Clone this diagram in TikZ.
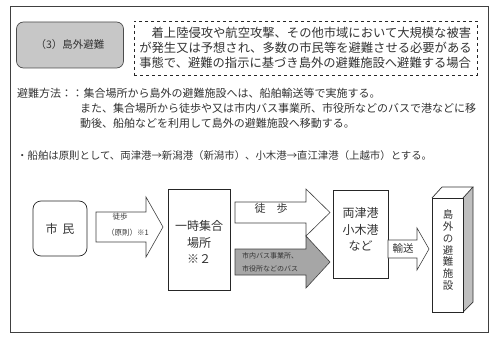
\documentclass[tikz,border=0pt]{standalone}
\usepackage{fontspec}
\setmainfont{Noto Sans CJK JP}
\begin{document}
\begin{tikzpicture}[x=1pt,y=-1pt,
  txt/.style={inner sep=0pt, text=black!80, font=\fontsize{11}{15}\selectfont},
  frame/.style={draw=black!75, line width=1pt},
  box/.style={draw=black!85, line width=0.7pt, fill=white, inner sep=0pt, text=black!80},
  arr/.style={draw=black!75, line width=0.6pt, fill=white, line join=miter},
  garr/.style={arr, fill=black!35},
  big/.style={font=\fontsize{12}{16.5}\selectfont, align=center},
  tiny/.style={font=\fontsize{7}{13}\selectfont, align=left}]
\useasboundingbox (0,0) rectangle (500,342);
\draw[frame] (10,7) rectangle (488,332);
% header
\node[box, draw=black!70, fill=black!22, rounded corners=7, minimum width=107, minimum height=46,
  font=\fontsize{10.5}{12}\selectfont] (title) at (70,45) {（3）島外避難};
\node[box, dashed, line width=0.6pt, minimum width=343, minimum height=54, align=left,
  font=\fontsize{12.3}{15}\selectfont] (desc) at (305.5,48)
  {\hspace*{1em}着上陸侵攻や航空攻撃、その他市域において大規模な被害\\が発生又は予想され、多数の市民等を避難させる必要がある\\事態で、避難の指示に基づき島外の避難施設へ避難する場合};
% method
\node[txt, anchor=west] (m0) at (17,93) {避難方法：：};
\node[txt, anchor=west] (m1) at (m0.east) {集合場所から島外の避難施設へは、船舶輸送等で実施する。};
\node[txt, anchor=west] (m2) at (80,108) {また、集合場所から徒歩や又は市内バス事業所、市役所などのバスで港などに移};
\node[txt, anchor=west] (m3) at (80,123) {動後、船舶などを利用して島外の避難施設へ移動する。};
\node[txt, anchor=west, font=\fontsize{10.4}{12}\selectfont] (note) at (17,156)
  {・船舶は原則として、両津港→新潟港（新潟市）、小木港→直江津港（上越市）とする。};
% diagram boxes
\node[box, rounded corners=8, minimum width=54, minimum height=55,
  font=\fontsize{12}{14}\selectfont] (shimin) at (60,228.5) {市\hspace{0.4em}民};
\node[box, minimum width=62, minimum height=101] (ichiji) at (199,239.5) {};
\node[txt, big] (ichijiT) at (199,242) {一時集合\\場所\\※２};
\node[box, minimum width=55, minimum height=88] (port) at (360.5,234) {};
\node[txt, big] (portT) at (360.5,229.5) {両津港\\小木港\\など};
% block arrows
\draw[arr] (96,212) -- (146,212) -- (146,197) -- (163,227) -- (146,257) -- (146,242) -- (96,242) -- cycle;
\node[txt, font=\fontsize{7.5}{9}\selectfont] (walk1) at (120,217) {徒歩};
\node[txt, font=\fontsize{7.5}{9}\selectfont] (walk1b) at (128,233) {（原則）※1};
\draw[arr] (235,202) -- (306,202) -- (306,189) -- (330,212.5) -- (306,236) -- (306,223) -- (235,223) -- cycle;
\node[txt] (walk2) at (271,208) {徒\hspace{1em}歩};
\draw[garr] (235,249) -- (306,249) -- (306,236) -- (330,262) -- (306,288) -- (306,275) -- (235,275) -- cycle;
\node[txt, tiny, anchor=west] (bus) at (242,262.5) {市内バス事業所、\\市役所などのバス};
\draw[arr] (388,240) -- (417,240) -- (417,228) -- (429,249) -- (417,270) -- (417,258) -- (388,258) -- cycle;
\node[txt, font=\fontsize{10.5}{12}\selectfont] (ship) at (403,249) {輸送};
% 3D destination box
\fill[black!25] (463,198) -- (473,187) -- (473,302) -- (463,312) -- cycle;
\draw[black!80, line width=0.7pt, line join=miter] (432,198) -- (442,187) -- (473,187) -- (463,198);
\draw[black!80, line width=0.7pt, line join=miter] (473,187) -- (473,302) -- (463,312);
\node[box, minimum width=31, minimum height=114] (dest) at (447.5,255) {};
\node[txt, align=center, font=\fontsize{10.5}{11.7}\selectfont] (destT) at (448,250) {島\\外\\の\\避\\難\\施\\設};
\end{tikzpicture}
\end{document}
